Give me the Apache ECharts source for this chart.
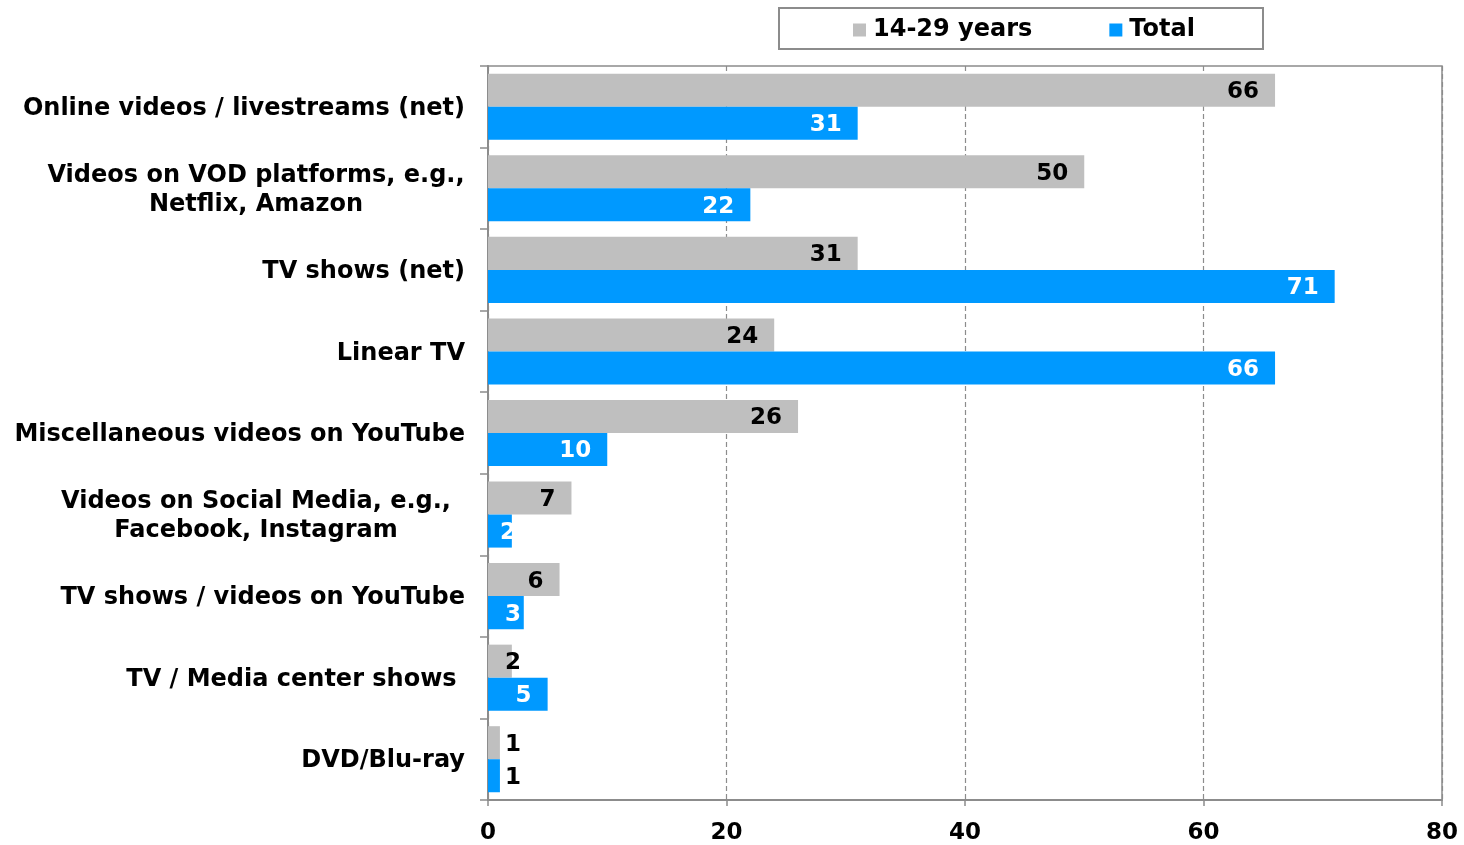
<!DOCTYPE html>
<html>
<head>
<meta charset="utf-8">
<script src="https://cdn.jsdelivr.net/npm/echarts@6/dist/echarts.min.js"></script>
<style>
  html, body { margin: 0; padding: 0; background: #fff; }
  #chart { width: 1464px; height: 845px; }
</style>
</head>
<body>
<div id="chart"></div>
<script>
// Video sources, share of respondents (%)
const categories = [
  'Online videos / livestreams (net)',
  'Videos on VOD platforms, e.g.,\nNetflix, Amazon',
  'TV shows (net)',
  'Linear TV',
  'Miscellaneous videos on YouTube',
  'Videos on Social Media, e.g.,\nFacebook, Instagram',
  'TV shows / videos on YouTube',
  'TV / Media center shows ',
  'DVD/Blu-ray'
];
const youngValues = [66, 50, 31, 24, 26, 7, 6, 2, 1];
const totalValues = [31, 22, 71, 66, 10, 2, 3, 5, 1];
const seriesNames = ['14-29 years', 'Total'];
const xTicks = [0, 20, 40, 60, 80];

const FONT = '"DejaVu Sans", Verdana, sans-serif';
const GRAY = '#BFBFBF';
const BLUE = '#0099FF';
const AXIS = '#8C8C8C';
const CAT_SIZE = 24;
const VAL_SIZE = 23;

// measure a text line so multi-line labels can be centred inside a right-aligned block
const ctx = document.createElement('canvas').getContext('2d');
ctx.font = 'bold ' + CAT_SIZE + 'px ' + FONT;
function lineWidth(s) { return Math.ceil(ctx.measureText(s).width); }

const richWidths = {};
categories.forEach(c => {
  const lines = c.split('\n');
  if (lines.length > 1) richWidths[c] = Math.max(...lines.map(lineWidth));
});

// label placement per bar: inside the bar end, or from the bar start when the bar is short
function barData(values, insideColor) {
  return values.map(v => {
    if (v >= 5) {
      return { value: v, label: { position: 'insideRight', distance: 16, color: insideColor } };
    }
    const outside = v < 2;
    const whiteShort = insideColor === '#fff' && v === 2;
    return {
      value: v,
      label: {
        position: 'insideLeft',
        distance: whiteShort ? 12 : 17,
        color: outside ? '#000' : insideColor
      }
    };
  });
}

const chart = echarts.init(document.getElementById('chart'), null, { renderer: 'canvas' });

const labelBase = {
  show: true,
  fontFamily: FONT,
  fontWeight: 'bold',
  fontSize: VAL_SIZE,
  offset: [0, 2]
};

chart.setOption({
  animation: false,
  backgroundColor: '#fff',
  textStyle: { fontFamily: FONT },
  graphic: [{
    type: 'rect',
    left: 778, top: 7,
    shape: { width: 484, height: 41 },
    style: { fill: '#fff', stroke: AXIS, lineWidth: 2 },
    z: 0
  }],
  legend: {
    left: 853,
    top: 18,
    padding: 0,
    itemWidth: 13,
    itemHeight: 13,
    itemGap: 77,
    icon: 'rect',
    data: seriesNames,
    textStyle: { fontFamily: FONT, fontWeight: 'bold', fontSize: 24, color: '#000', padding: [0, 0, 0, 2] },
    z: 5
  },
  grid: {
    left: 488, right: 22, top: 66, bottom: 45,
    show: true,
    borderColor: AXIS,
    borderWidth: 1.5,
    containLabel: false
  },
  xAxis: {
    type: 'value',
    min: 0, max: 80, interval: 20,
    axisLine: { show: true, lineStyle: { color: AXIS, width: 2 } },
    axisTick: { show: true, length: 6, lineStyle: { color: AXIS, width: 1.5 } },
    splitLine: { show: true, lineStyle: { color: AXIS, type: [5, 3], width: 1.2 } },
    axisLabel: {
      margin: 22,
      color: '#000',
      fontFamily: FONT,
      fontWeight: 'bold',
      fontSize: VAL_SIZE,
      formatter: v => (xTicks.includes(v) ? String(v) : '')
    }
  },
  yAxis: {
    type: 'category',
    data: categories,
    inverse: true,
    axisLine: { show: true, lineStyle: { color: AXIS, width: 2 } },
    axisTick: { show: true, length: 8, lineStyle: { color: AXIS, width: 1.5 } },
    axisLabel: {
      margin: 23,
      color: '#000',
      fontFamily: FONT,
      fontWeight: 'bold',
      fontSize: CAT_SIZE,
      lineHeight: 29,
      align: 'right',
      padding: [4, 0, 0, 0],
      formatter: function (value) {
        if (!richWidths[value]) return value;
        return value.split('\n').map(l => '{c|' + l + '}').join('\n');
      },
      rich: {
        c: {
          fontFamily: FONT, fontWeight: 'bold', fontSize: CAT_SIZE, color: '#000',
          lineHeight: 29, align: 'center',
          width: Math.max(...Object.values(richWidths))
        }
      }
    }
  },
  series: [
    {
      name: seriesNames[0],
      type: 'bar',
      data: barData(youngValues, '#000'),
      itemStyle: { color: GRAY },
      barGap: '0%',
      barCategoryGap: '19%',
      label: Object.assign({}, labelBase)
    },
    {
      name: seriesNames[1],
      type: 'bar',
      data: barData(totalValues, '#fff'),
      itemStyle: { color: BLUE },
      barGap: '0%',
      barCategoryGap: '19%',
      label: Object.assign({}, labelBase)
    }
  ]
});
</script>
</body>
</html>
